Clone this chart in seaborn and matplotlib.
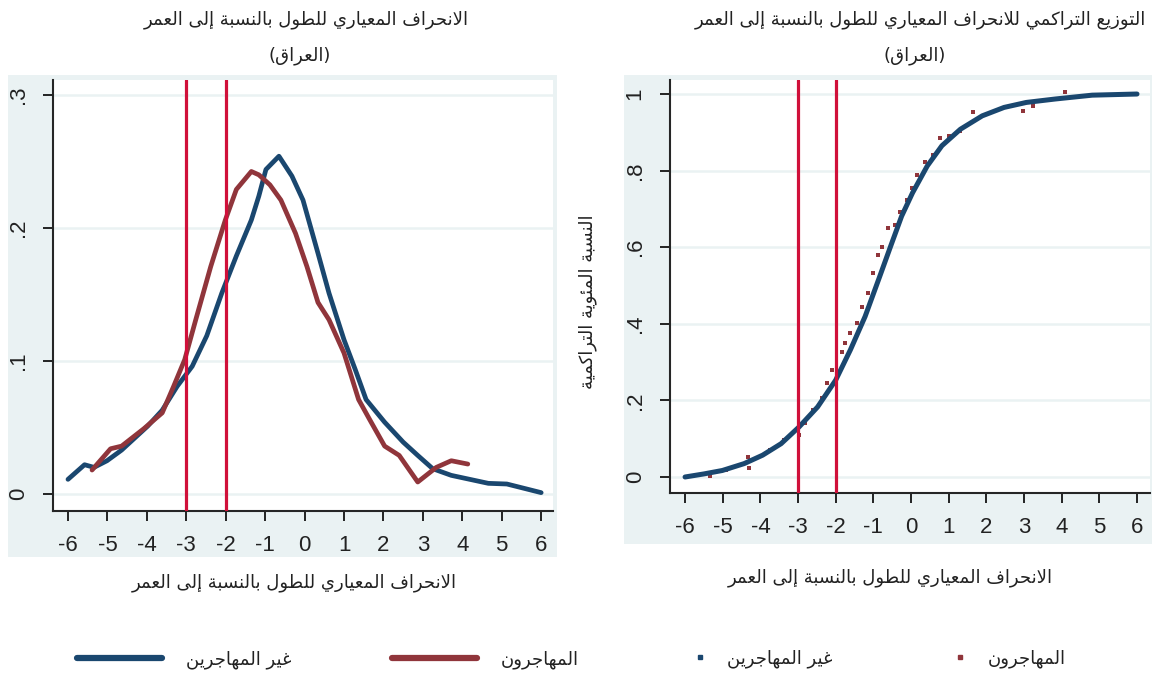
import matplotlib
matplotlib.use("Agg")
import matplotlib.pyplot as plt
from matplotlib.lines import Line2D
from matplotlib.patches import Rectangle
import pandas as pd
import seaborn as sns

# ---------------------------------------------------------------- data
# Kernel density of height-for-age z-score
dens_x_non = [-6.0, -5.58, -5.34, -5.01, -4.64, -3.98, -3.61, -3.23, -2.85, -2.48, -2.10,
              -1.73, -1.35, -1.16, -0.98, -0.65, -0.32, -0.04, 0.34, 0.62, 1.00, 1.28,
              1.56, 2.03, 2.50, 2.87, 3.25, 3.72, 4.19, 4.66, 5.13, 5.60, 6.00]
dens_y_non = [0.011, 0.022, 0.020, 0.025, 0.033, 0.051, 0.063, 0.081, 0.096, 0.119, 0.151,
              0.179, 0.206, 0.224, 0.244, 0.254, 0.239, 0.221, 0.181, 0.151, 0.116, 0.094,
              0.071, 0.054, 0.039, 0.029, 0.019, 0.014, 0.011, 0.008, 0.0075, 0.004, 0.001]
dens_x_mig = [-5.39, -4.92, -4.64, -4.08, -3.61, -3.32, -3.04, -2.76, -2.38, -2.01, -1.73,
              -1.35, -1.16, -0.88, -0.60, -0.23, 0.06, 0.34, 0.62, 1.00, 1.37, 1.65, 2.03,
              2.40, 2.87, 3.34, 3.72, 4.14]
dens_y_mig = [0.018, 0.034, 0.036, 0.049, 0.061, 0.081, 0.101, 0.131, 0.171, 0.206, 0.229,
              0.2425, 0.240, 0.2325, 0.221, 0.196, 0.171, 0.144, 0.131, 0.106, 0.071, 0.056,
              0.036, 0.029, 0.009, 0.020, 0.025, 0.0225]

# Cumulative distribution
cdf_x_non = [-6.0, -5.5, -5.01, -4.43, -3.94, -3.45, -2.97, -2.48, -2.0, -1.61, -1.22, -0.83,
             -0.54, -0.25, 0.04, 0.43, 0.82, 1.31, 1.89, 2.47, 3.06, 3.83, 4.81, 6.0]
cdf_y_non = [0.0, 0.008, 0.017, 0.035, 0.057, 0.087, 0.131, 0.183, 0.253, 0.332, 0.419, 0.524,
             0.603, 0.681, 0.742, 0.812, 0.865, 0.908, 0.943, 0.965, 0.978, 0.987, 0.997, 1.0]
cdf_x_mig = [-5.35, -4.91, -4.33, -4.31, -3.75, -3.36, -2.97, -2.82, -2.60, -2.36, -2.23,
             -2.10, -1.83, -1.75, -1.62, -1.43, -1.30, -1.14, -1.01, -0.88, -0.77, -0.61,
             -0.43, -0.29, -0.11, 0.03, 0.16, 0.37, 0.58, 0.77, 1.02, 1.31, 1.65, 2.96,
             3.25, 4.08]
cdf_y_mig = [0.003, 0.019, 0.052, 0.024, 0.070, 0.096, 0.109, 0.140, 0.175, 0.206, 0.245,
             0.279, 0.326, 0.350, 0.376, 0.402, 0.444, 0.480, 0.533, 0.580, 0.600, 0.650,
             0.658, 0.692, 0.723, 0.755, 0.789, 0.822, 0.841, 0.886, 0.891, 0.904, 0.952,
             0.955, 0.969, 1.004]

cutoffs = [-3, -2]
x_ticks = list(range(-6, 7))
y_ticks_left = [0, 0.1, 0.2, 0.3]
y_labels_left = ["0", ".1", ".2", ".3"]
y_ticks_right = [0, 0.2, 0.4, 0.6, 0.8, 1.0]
y_labels_right = ["0", ".2", ".4", ".6", ".8", "1"]

title_left = "الانحراف المعياري للطول بالنسبة إلى العمر"
title_right = "التوزيع التراكمي للانحراف المعياري للطول بالنسبة إلى العمر"
country = "(العراق)"
xlabel = "الانحراف المعياري للطول بالنسبة إلى العمر"
ylabel_right = "النسبة المئوية التراكمية"
lab_non = "غير المهاجرين"
lab_mig = "المهاجرون"

# ------------------------------------------------- Arabic glyph joining
FORMS = {
    '\u0621': ('\uFE80', None, None, None),
    '\u0622': ('\uFE81', '\uFE82', None, None),
    '\u0623': ('\uFE83', '\uFE84', None, None),
    '\u0624': ('\uFE85', '\uFE86', None, None),
    '\u0625': ('\uFE87', '\uFE88', None, None),
    '\u0626': ('\uFE89', '\uFE8A', '\uFE8B', '\uFE8C'),
    '\u0627': ('\uFE8D', '\uFE8E', None, None),
    '\u0628': ('\uFE8F', '\uFE90', '\uFE91', '\uFE92'),
    '\u0629': ('\uFE93', '\uFE94', None, None),
    '\u062A': ('\uFE95', '\uFE96', '\uFE97', '\uFE98'),
    '\u062B': ('\uFE99', '\uFE9A', '\uFE9B', '\uFE9C'),
    '\u062C': ('\uFE9D', '\uFE9E', '\uFE9F', '\uFEA0'),
    '\u062D': ('\uFEA1', '\uFEA2', '\uFEA3', '\uFEA4'),
    '\u062E': ('\uFEA5', '\uFEA6', '\uFEA7', '\uFEA8'),
    '\u062F': ('\uFEA9', '\uFEAA', None, None),
    '\u0630': ('\uFEAB', '\uFEAC', None, None),
    '\u0631': ('\uFEAD', '\uFEAE', None, None),
    '\u0632': ('\uFEAF', '\uFEB0', None, None),
    '\u0633': ('\uFEB1', '\uFEB2', '\uFEB3', '\uFEB4'),
    '\u0634': ('\uFEB5', '\uFEB6', '\uFEB7', '\uFEB8'),
    '\u0635': ('\uFEB9', '\uFEBA', '\uFEBB', '\uFEBC'),
    '\u0636': ('\uFEBD', '\uFEBE', '\uFEBF', '\uFEC0'),
    '\u0637': ('\uFEC1', '\uFEC2', '\uFEC3', '\uFEC4'),
    '\u0638': ('\uFEC5', '\uFEC6', '\uFEC7', '\uFEC8'),
    '\u0639': ('\uFEC9', '\uFECA', '\uFECB', '\uFECC'),
    '\u063A': ('\uFECD', '\uFECE', '\uFECF', '\uFED0'),
    '\u0641': ('\uFED1', '\uFED2', '\uFED3', '\uFED4'),
    '\u0642': ('\uFED5', '\uFED6', '\uFED7', '\uFED8'),
    '\u0643': ('\uFED9', '\uFEDA', '\uFEDB', '\uFEDC'),
    '\u0644': ('\uFEDD', '\uFEDE', '\uFEDF', '\uFEE0'),
    '\u0645': ('\uFEE1', '\uFEE2', '\uFEE3', '\uFEE4'),
    '\u0646': ('\uFEE5', '\uFEE6', '\uFEE7', '\uFEE8'),
    '\u0647': ('\uFEE9', '\uFEEA', '\uFEEB', '\uFEEC'),
    '\u0648': ('\uFEED', '\uFEEE', None, None),
    '\u0649': ('\uFEEF', '\uFEF0', None, None),
    '\u064A': ('\uFEF1', '\uFEF2', '\uFEF3', '\uFEF4'),
}
LAM_ALEF = {'\u0622': ('\uFEF5', '\uFEF6'), '\u0623': ('\uFEF7', '\uFEF8'),
            '\u0625': ('\uFEF9', '\uFEFA'), '\u0627': ('\uFEFB', '\uFEFC')}


def _dual(c):
    return c in FORMS and FORMS[c][2] is not None


def rtl(text):
    """Join Arabic letters into contextual forms and lay them out right-to-left."""
    out = []
    n = len(text)
    i = 0
    while i < n:
        c = text[i]
        if c not in FORMS:
            out.append(c)
            i += 1
            continue
        prev = text[i - 1] if i > 0 else ''
        joins_prev = _dual(prev) and FORMS[c][1] is not None
        if c == '\u0644' and i + 1 < n and text[i + 1] in LAM_ALEF:
            iso, fin = LAM_ALEF[text[i + 1]]
            out.append(fin if joins_prev else iso)
            i += 2
            continue
        nxt = text[i + 1] if i + 1 < n else ''
        joins_next = _dual(c) and nxt in FORMS and FORMS[nxt][1] is not None
        iso, fin, ini, med = FORMS[c]
        if joins_prev and joins_next:
            out.append(med)
        elif joins_prev:
            out.append(fin)
        elif joins_next:
            out.append(ini)
        else:
            out.append(iso)
        i += 1
    return ''.join(reversed(out)).translate(str.maketrans('()', ')('))


# ------------------------------------------------------------- styling
BLUE = "#1a476f"
MAROON = "#90353b"
CUT = "#d0103a"
BG = "#eaf2f3"
GRID = "#eaf2f3"

sns.set_style("ticks")
plt.rcParams['font.family'] = ['Liberation Sans', 'DejaVu Sans']
plt.rcParams['axes.linewidth'] = 1.5

W, H = 1152, 673
fig = plt.figure(figsize=(W / 100, H / 100), dpi=100)
fig.patch.set_facecolor("white")


def box(l, t, r, b):
    return [l / W, 1 - b / H, (r - l) / W, (b - t) / H]


def fig_rect(l, t, r, b):
    fig.patches.append(Rectangle((l / W, 1 - b / H), (r - l) / W, (b - t) / H,
                                 transform=fig.transFigure, facecolor=BG,
                                 edgecolor="none", zorder=-5))


fig_rect(8, 75, 557, 557)
fig_rect(624, 75, 1152, 544)

ax1 = fig.add_axes(box(53, 80, 553, 511))
ax2 = fig.add_axes(box(670, 80, 1150, 493))

dens = pd.concat([
    pd.DataFrame({"z": dens_x_non, "d": dens_y_non, "g": lab_non}),
    pd.DataFrame({"z": dens_x_mig, "d": dens_y_mig, "g": lab_mig}),
])
sns.lineplot(data=dens, x="z", y="d", hue="g", palette={lab_non: BLUE, lab_mig: MAROON},
             hue_order=[lab_non, lab_mig], sort=False, lw=3.4, legend=False, ax=ax1,
             zorder=3)

cdf_non = pd.DataFrame({"z": cdf_x_non, "p": cdf_y_non})
cdf_mig = pd.DataFrame({"z": cdf_x_mig, "p": cdf_y_mig})
sns.scatterplot(data=cdf_mig, x="z", y="p", color=MAROON, marker="s", s=7, linewidth=0,
                ax=ax2, zorder=3)
sns.lineplot(data=cdf_non, x="z", y="p", color=BLUE, lw=3.6, ax=ax2, zorder=4)

for ax in (ax1, ax2):
    for c in cutoffs:
        ax.axvline(c, color=CUT, lw=2.3, zorder=5)
    ax.set_facecolor("white")
    sns.despine(ax=ax)
    ax.set_xticks(x_ticks)
    ax.set_xticklabels([str(t) for t in x_ticks])
    ax.tick_params(axis="both", direction="out", length=7.5, width=1.2, color="black",
                   labelsize=16, labelcolor="#222222", pad=10)
    ax.yaxis.grid(True, color=GRID, lw=1.8)
    ax.xaxis.grid(False)
    ax.set_xlabel("")
    ax.set_ylabel("")

ax1.set_xlim(-6.38, 6.30)
ax1.set_ylim(-0.0128, 0.3113)
ax1.set_yticks(y_ticks_left)
ax1.set_yticklabels(y_labels_left, rotation=90, va="center")

ax2.set_xlim(-6.40, 6.345)
ax2.set_ylim(-0.0418, 1.0366)
ax2.set_yticks(y_ticks_right)
ax2.set_yticklabels(y_labels_right, rotation=90, va="center")

# titles and axis titles
AR = dict(family=["DejaVu Sans"], color="#222222", ha="center", va="center")
fig.text(306 / W, 1 - 20 / H, rtl(title_left), fontsize=13, **AR)
fig.text(300 / W, 1 - 56 / H, rtl(country), fontsize=13, **AR)
fig.text(920 / W, 1 - 20 / H, rtl(title_right), fontsize=13, **AR)
fig.text(915 / W, 1 - 56 / H, rtl(country), fontsize=13, **AR)
fig.text(294 / W, 1 - 583 / H, rtl(xlabel), fontsize=13, **AR)
fig.text(890 / W, 1 - 578 / H, rtl(xlabel), fontsize=13, **AR)
fig.text(588 / W, 1 - 302 / H, rtl(ylabel_right), fontsize=13, rotation=90, **AR)

# legends
leg_font = {"family": ["DejaVu Sans"], "size": 13}
h1 = [Line2D([], [], color=BLUE, lw=4.5), Line2D([], [], color=MAROON, lw=4.5)]
ax1.legend(h1, [rtl(lab_non), rtl(lab_mig)], ncol=2, frameon=False, prop=leg_font,
           loc="center", bbox_to_anchor=(328 / W, 1 - 660 / H),
           bbox_transform=fig.transFigure, handlelength=4.7, handletextpad=1.3,
           columnspacing=5.6, labelcolor="#222222")
h2 = [Line2D([], [], color=BLUE, marker="s", ls="none", markersize=2.2),
      Line2D([], [], color=MAROON, marker="s", ls="none", markersize=2.2)]
ax2.legend(h2, [rtl(lab_non), rtl(lab_mig)], ncol=2, frameon=False, prop=leg_font,
           loc="center", bbox_to_anchor=(878 / W, 1 - 659 / H),
           bbox_transform=fig.transFigure, handlelength=1.0, handletextpad=1.0,
           columnspacing=6.6, labelcolor="#222222")

fig.savefig("out.png", dpi=100)
